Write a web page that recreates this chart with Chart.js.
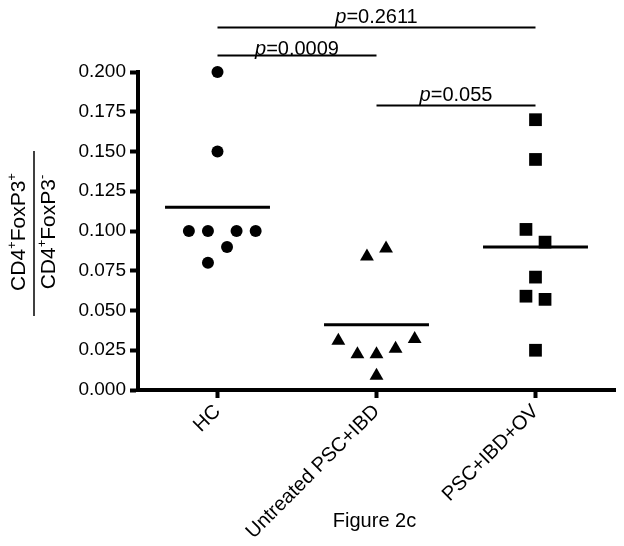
<!DOCTYPE html>
<html>
<head>
<meta charset="utf-8">
<script src="https://cdn.jsdelivr.net/npm/chart.js@4.4.0/dist/chart.umd.min.js"></script>
<style>
  html, body { margin: 0; padding: 0; background: #fff; }
  #wrap { width: 624px; height: 546px; position: relative; }
</style>
</head>
<body>
<div id="wrap"><canvas id="fig"></canvas></div>
<script>
const categories = ['HC', 'Untreated PSC+IBD', 'PSC+IBD+OV'];
const hcValues = [0.200, 0.150, 0.100, 0.100, 0.100, 0.100, 0.090, 0.080];
const hcJitter = [0, 0, -0.18, -0.06, 0.12, 0.24, 0.06, -0.06];
const untreatedValues = [0.084, 0.089, 0.031, 0.0225, 0.0225, 0.026, 0.032, 0.009];
const untreatedJitter = [-0.06, 0.06, -0.24, -0.12, 0, 0.12, 0.24, 0];
const ovValues = [0.170, 0.145, 0.101, 0.093, 0.071, 0.059, 0.057, 0.025];
const ovJitter = [0, 0, -0.06, 0.06, 0, -0.06, 0.06, 0];
const groupMeans = [0.115, 0.041, 0.090];
const yTicks = [0, 0.025, 0.05, 0.075, 0.1, 0.125, 0.15, 0.175, 0.2];
const pLabels = ['0.2611', '0.0009', '0.055'];
const pFrom = [1, 1, 2];
const pTo = [3, 2, 3];

const FONT = '"Liberation Sans", Arial, Helvetica, sans-serif';

function points(values, jitter, cat) {
  return values.map((v, i) => ({ x: cat + jitter[i], y: v }));
}

// draws a run of text pieces, some raised as superscripts, centred on x
function drawRich(ctx, parts, x, y) {
  let total = 0;
  parts.forEach(p => {
    ctx.font = p.sup ? '13px ' + FONT : '21px ' + FONT;
    p.w = ctx.measureText(p.t).width;
    total += p.w;
  });
  let cx = x - total / 2;
  parts.forEach(p => {
    ctx.font = p.sup ? '13px ' + FONT : '21px ' + FONT;
    ctx.fillText(p.t, cx, p.sup ? y - 9 : y);
    cx += p.w;
  });
}

const extras = {
  id: 'extras',
  afterDraw(chart) {
    const ctx = chart.ctx;
    const xs = chart.scales.x, ys = chart.scales.y;
    const area = chart.chartArea;
    ctx.save();
    ctx.fillStyle = '#000';
    ctx.strokeStyle = '#000';
    ctx.textAlign = 'left';
    ctx.textBaseline = 'alphabetic';

    // y axis title as a fraction
    ctx.save();
    ctx.translate(34, (area.top + area.bottom) / 2 + 3);
    ctx.rotate(-Math.PI / 2);
    ctx.lineWidth = 1.5;
    ctx.beginPath();
    ctx.moveTo(-82, 0);
    ctx.lineTo(83, 0);
    ctx.stroke();
    drawRich(ctx, [{t: 'CD4'}, {t: '+', sup: true}, {t: 'FoxP3'}, {t: '+', sup: true}], 2, -9);
    drawRich(ctx, [{t: 'CD4'}, {t: '+', sup: true}, {t: 'FoxP3'}, {t: '-', sup: true}], 2, 21);
    ctx.restore();

    // significance brackets
    const levels = [0.228, 0.2107, 0.179];
    const gaps = [5, 1, 5];
    ctx.lineWidth = 2;
    pLabels.forEach((lab, i) => {
      const x1 = xs.getPixelForValue(pFrom[i]);
      const x2 = xs.getPixelForValue(pTo[i]);
      const y = Math.round(ys.getPixelForValue(levels[i])) + 0.5;
      ctx.beginPath();
      ctx.moveTo(x1, y);
      ctx.lineTo(x2, y);
      ctx.stroke();
      ctx.font = 'italic 20px ' + FONT;
      const wp = ctx.measureText('p').width;
      ctx.font = '20px ' + FONT;
      const wr = ctx.measureText('=' + lab).width;
      let tx = (x1 + x2) / 2 - (wp + wr) / 2;
      ctx.font = 'italic 20px ' + FONT;
      ctx.fillText('p', tx, y - gaps[i]);
      ctx.font = '20px ' + FONT;
      ctx.fillText('=' + lab, tx + wp, y - gaps[i]);
    });

    // caption
    ctx.font = '20px ' + FONT;
    ctx.textAlign = 'center';
    ctx.fillText('Figure 2c', (area.left + area.right) / 2 - 2, 527);
    ctx.restore();
  }
};

const markerSets = [
  { data: points(hcValues, hcJitter, 1), pointStyle: 'circle', pointRadius: 6 },
  { data: points(untreatedValues, untreatedJitter, 2), pointStyle: 'triangle', pointRadius: 8 },
  { data: points(ovValues, ovJitter, 3), pointStyle: 'rect', pointRadius: 9 }
].map(d => Object.assign(d, {
  type: 'scatter', backgroundColor: '#000', borderColor: '#000', borderWidth: 0, clip: false
}));

const meanSets = groupMeans.map((m, i) => ({
  type: 'line',
  data: [{ x: i + 1 - 0.33, y: m }, { x: i + 1 + 0.33, y: m }],
  borderColor: '#000',
  borderWidth: 3,
  pointRadius: 0,
  clip: false
}));

new Chart(document.getElementById('fig'), {
  type: 'scatter',
  data: { datasets: markerSets.concat(meanSets) },
  options: {
    responsive: true,
    maintainAspectRatio: false,
    animation: false,
    devicePixelRatio: 1,
    layout: { padding: { top: 72, right: 7, left: 0, bottom: 0 } },
    plugins: { legend: { display: false }, tooltip: { enabled: false } },
    scales: {
      x: {
        type: 'linear',
        min: 0.5,
        max: 3.5,
        afterBuildTicks: s => { s.ticks = [1, 2, 3].map(v => ({ value: v })); },
        afterFit: s => { s.height = 156; },
        border: { display: true, color: '#000', width: 4 },
        grid: { drawOnChartArea: false, drawTicks: true, tickLength: 8, tickWidth: 4, tickColor: '#000', color: '#000' },
        ticks: {
          callback: v => categories[v - 1],
          minRotation: 45,
          maxRotation: 45,
          padding: 2,
          color: '#000',
          font: { family: FONT, size: 20 }
        }
      },
      y: {
        min: 0,
        max: 0.2,
        afterBuildTicks: s => { s.ticks = yTicks.map(v => ({ value: v })); },
        afterFit: s => { s.width = 138; },
        border: { display: true, color: '#000', width: 4 },
        grid: { drawOnChartArea: false, drawTicks: true, tickLength: 8, tickWidth: 4, tickColor: '#000', color: '#000' },
        ticks: {
          callback: v => v.toFixed(3),
          padding: 4,
          color: '#000',
          font: { family: FONT, size: 19 }
        }
      }
    }
  },
  plugins: [extras]
});
</script>
</body>
</html>
